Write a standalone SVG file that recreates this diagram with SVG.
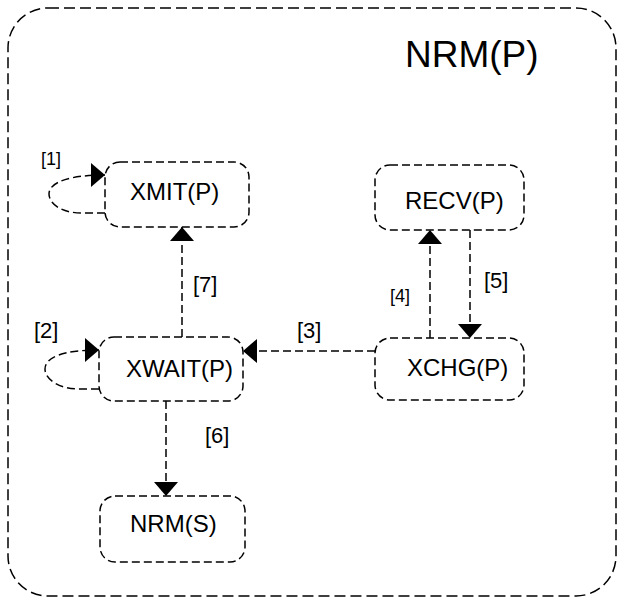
<svg xmlns="http://www.w3.org/2000/svg" width="619" height="599" viewBox="0 0 619 599">
<style>
  .frame{fill:none;stroke:#000;stroke-width:1.5;stroke-dasharray:11 5}
  .node{fill:#fff;stroke:#000;stroke-width:1.5;stroke-dasharray:8 4}
  .edge{fill:none;stroke:#000;stroke-width:1.5;stroke-dasharray:8 4}
  .nt{font-family:"Liberation Sans",Arial,sans-serif;font-size:24px;fill:#000}
  .lb{font-family:"Liberation Sans",Arial,sans-serif;font-size:22px;fill:#000}
  .lbs{font-family:"Liberation Sans",Arial,sans-serif;font-size:18px;fill:#000}
</style>
<defs>
  <marker id="ah" markerUnits="userSpaceOnUse" markerWidth="15" markerHeight="26" refX="14" refY="12" orient="auto" viewBox="0 0 15 26">
    <path d="M0,0 L14,12 L0,24 z" fill="#000"/>
  </marker>
</defs>
<rect class="frame" x="8" y="8" width="608" height="588" rx="40" ry="40"/>
<text x="405" y="67" font-family="Liberation Sans, Arial, sans-serif" font-size="37" fill="#000">NRM(P)</text>
<g id="connectors">
  <path class="edge" d="M105 213 L82 213 C60 213 49 203 49 194 C49 182 70 175 105 175" marker-end="url(#ah)"/>
  <path class="edge" d="M99 389 L80 389 C58 389 45 379 45 369 C45 357 64 350 99 350" marker-end="url(#ah)"/>
  <path class="edge" d="M182 337 L182 227" marker-end="url(#ah)"/>
  <path class="edge" d="M375 351 L243 351" marker-end="url(#ah)"/>
  <path class="edge" d="M430 338 L430 230" marker-end="url(#ah)"/>
  <path class="edge" d="M470 230 L470 338" marker-end="url(#ah)"/>
  <path class="edge" d="M166 401 L166 496" marker-end="url(#ah)"/>
  <text class="lbs" x="41" y="165">[1]</text>
  <text class="lb" x="34" y="338">[2]</text>
  <text class="lb" x="297" y="338">[3]</text>
  <text class="lbs" x="390" y="302">[4]</text>
  <text class="lb" x="484" y="288">[5]</text>
  <text class="lb" x="205" y="443">[6]</text>
  <text class="lb" x="193" y="292">[7]</text>
</g>
<g id="XMIT">
  <rect class="node" x="105" y="162" width="144" height="65" rx="15"/>
  <text class="nt" x="130" y="200">XMIT(P)</text>
</g>
<g id="RECV">
  <rect class="node" x="375" y="165" width="149" height="65" rx="15"/>
  <text class="nt" x="405" y="209">RECV(P)</text>
</g>
<g id="XWAIT">
  <rect class="node" x="99" y="337" width="144" height="64" rx="15"/>
  <text class="nt" x="126" y="377">XWAIT(P)</text>
</g>
<g id="XCHG">
  <rect class="node" x="375" y="338" width="149" height="62" rx="15"/>
  <text class="nt" x="407" y="376">XCHG(P)</text>
</g>
<g id="NRMS">
  <rect class="node" x="100" y="496" width="145" height="66" rx="15"/>
  <text class="nt" x="130" y="532">NRM(S)</text>
</g>
</svg>
